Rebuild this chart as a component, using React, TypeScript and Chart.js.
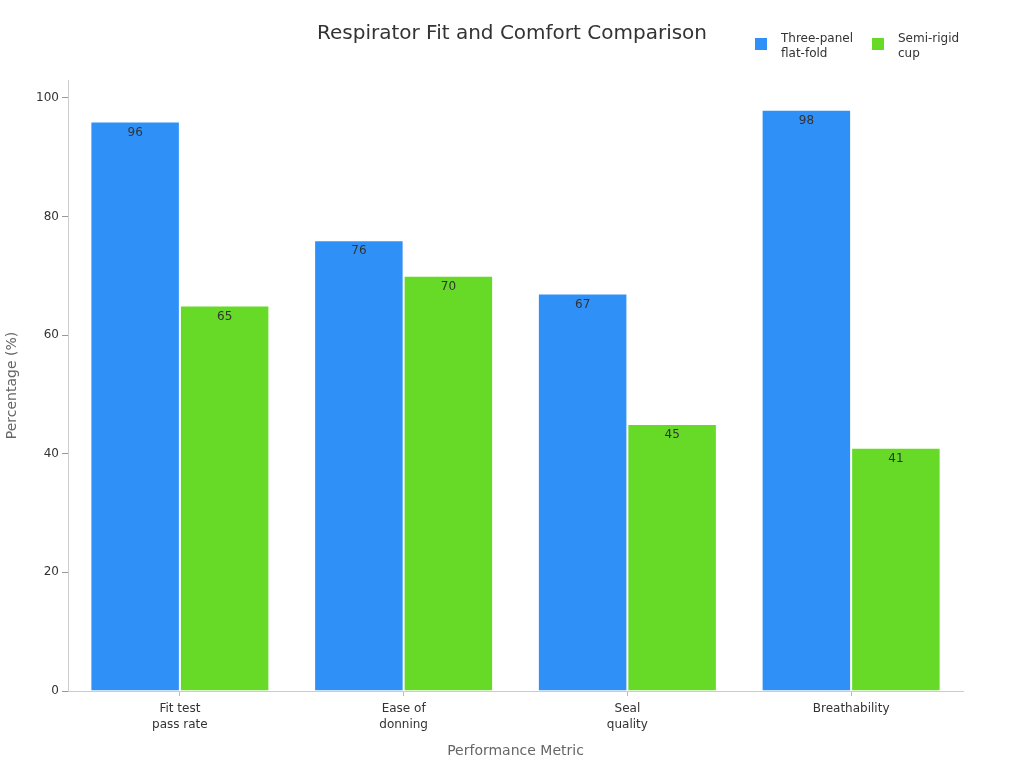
import React, { useEffect, useRef } from 'react'
import { Chart, registerables } from 'chart.js'

Chart.register(...registerables)

const categories = [['Fit test', 'pass rate'], ['Ease of', 'donning'], ['Seal', 'quality'], 'Breathability']
const seriesNames = [['Three-panel', 'flat-fold'], ['Semi-rigid', 'cup']]
const flatFold = [96, 76, 67, 98]
const semiRigid = [65, 70, 45, 41]
const yTicks = [0, 20, 40, 60, 80, 100]

const BLUE = '#2F91F8'
const GREEN = '#66DA26'
const FONT = "'DejaVu Sans', sans-serif"

const valueLabels = {
  id: 'valueLabels',
  afterDatasetsDraw(chart: Chart) {
    const ctx = chart.ctx
    ctx.save()
    ctx.font = `12px ${FONT}`
    ctx.fillStyle = '#333333'
    ctx.textAlign = 'center'
    ctx.textBaseline = 'middle'
    chart.data.datasets.forEach((ds, i) => {
      chart.getDatasetMeta(i).data.forEach((bar: any, j) => {
        ctx.fillText(String(ds.data[j]), bar.x, bar.y + 11)
      })
    })
    ctx.restore()
  },
}

const header = {
  id: 'header',
  afterDraw(chart: Chart) {
    const ctx = chart.ctx
    ctx.save()
    ctx.font = `20px ${FONT}`
    ctx.fillStyle = '#333333'
    ctx.textAlign = 'center'
    ctx.textBaseline = 'middle'
    ctx.fillText('Respirator Fit and Comfort Comparison', 512, 34)

    const items = [
      { x: 755, color: BLUE, lines: seriesNames[0] },
      { x: 872, color: GREEN, lines: seriesNames[1] },
    ]
    ctx.font = `12px ${FONT}`
    ctx.textAlign = 'left'
    items.forEach((it) => {
      ctx.fillStyle = it.color
      ctx.fillRect(it.x, 38, 12, 12)
      ctx.fillStyle = '#333333'
      it.lines.forEach((l, k) => ctx.fillText(l, it.x + 26, 39 + k * 15))
    })
    ctx.restore()
  },
}

export default function App() {
  const canvasRef = useRef<HTMLCanvasElement>(null)

  useEffect(() => {
    if (!canvasRef.current) return
    const chart = new Chart(canvasRef.current, {
      type: 'bar',
      data: {
        labels: categories,
        datasets: [
          { label: 'Three-panel flat-fold', data: flatFold, backgroundColor: BLUE, borderColor: 'rgba(255,255,255,0.6)', borderWidth: 1 },
          { label: 'Semi-rigid cup', data: semiRigid, backgroundColor: GREEN, borderColor: 'rgba(255,255,255,0.6)', borderWidth: 1 },
        ],
      },
      options: {
        responsive: false,
        animation: false,
        layout: { padding: { top: 80, right: 61, left: 0, bottom: 0 } },
        datasets: { bar: { categoryPercentage: 0.8, barPercentage: 1 } },
        plugins: {
          legend: { display: false },
          title: { display: false },
          tooltip: { enabled: false },
        },
        scales: {
          x: {
            grid: { drawOnChartArea: false, drawTicks: true, tickLength: 5, color: '#bbbbbb', offset: false },
            border: { color: '#cccccc' },
            ticks: { color: '#333333', font: { family: FONT, size: 12, lineHeight: 1.3 }, padding: 5, maxRotation: 0 },
            title: { display: true, text: 'Performance Metric', color: '#666666', font: { family: FONT, size: 14 }, padding: { top: 4, bottom: 8 } },
            afterFit: (s: any) => { s.height = 77 },
          },
          y: {
            min: 0,
            max: 103,
            afterBuildTicks: (s: any) => { s.ticks = yTicks.map((v) => ({ value: v })) },
            grid: { drawOnChartArea: false, drawTicks: true, tickLength: 6, color: '#999999' },
            border: { color: '#cccccc' },
            ticks: { color: '#333333', font: { family: FONT, size: 12 }, padding: 3 },
            title: { display: true, text: 'Percentage (%)', color: '#666666', font: { family: FONT, size: 14 }, padding: 4 },
            afterFit: (s: any) => { s.width = 68 },
          },
        },
      },
      plugins: [valueLabels, header],
    })
    return () => chart.destroy()
  }, [])

  return (
    <div style={{ position: 'fixed', left: 0, top: 0, width: 1024, height: 768, background: '#fff' }}>
      <canvas ref={canvasRef} width={1024} height={768} style={{ width: 1024, height: 768 }} />
    </div>
  )
}
